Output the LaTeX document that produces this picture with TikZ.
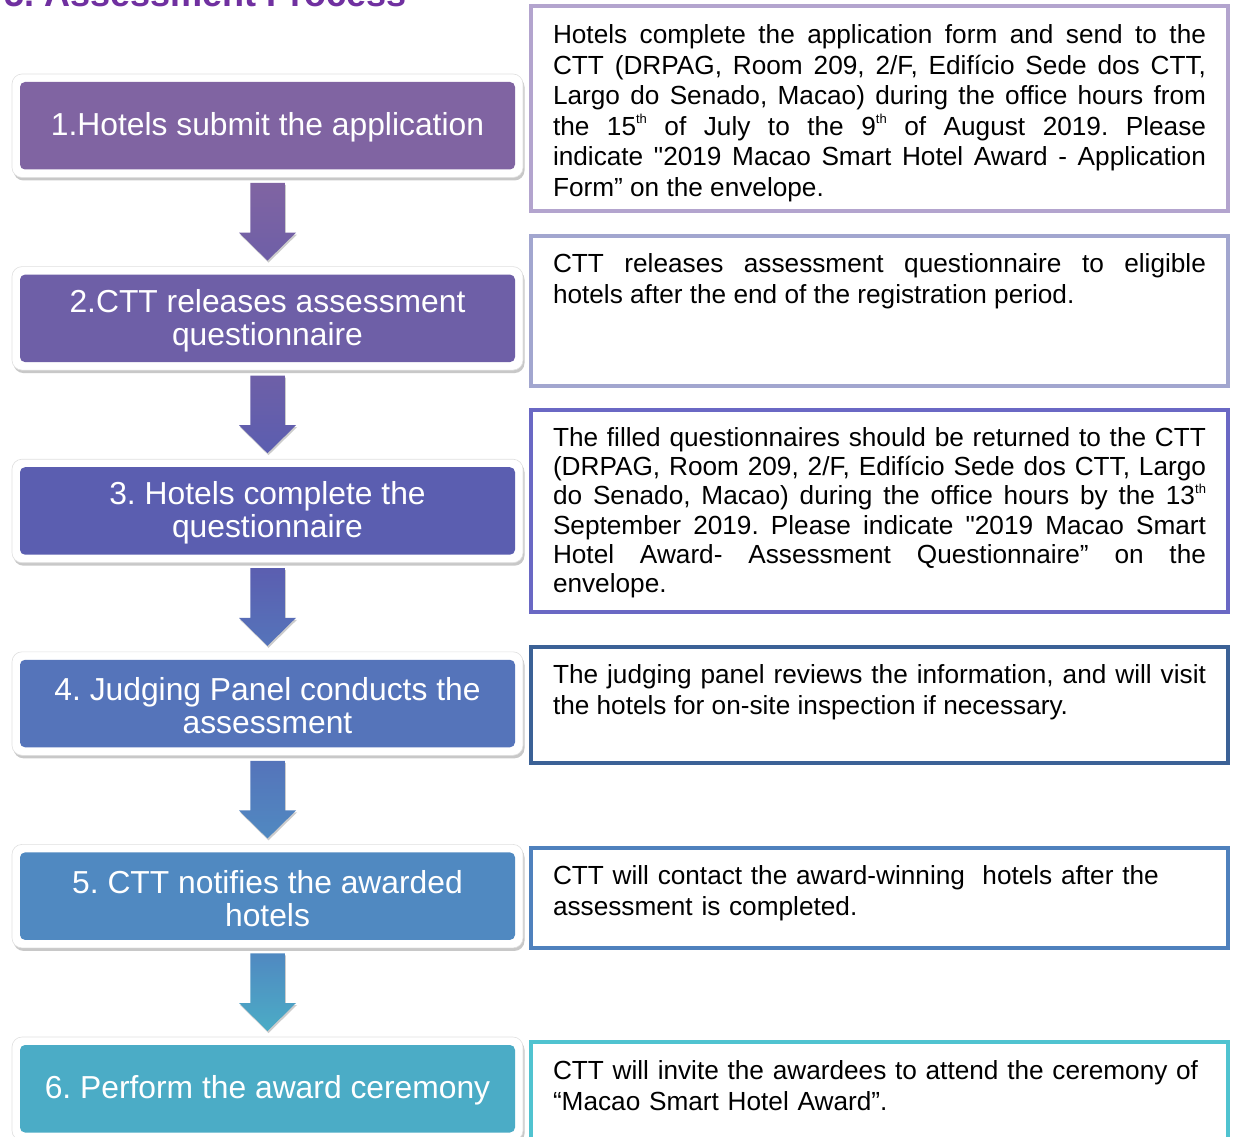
\documentclass[tikz,border=0pt]{standalone}
\usepackage{fontspec}
\setmainfont{Liberation Sans}[Ligatures=TeXOff]
\usetikzlibrary{shadows,calc}
\frenchspacing
\definecolor{titlec}{HTML}{7030A0}
\definecolor{c1}{HTML}{8064A2}
\definecolor{c2}{HTML}{6E5FA7}
\definecolor{c3}{HTML}{5B5EB0}
\definecolor{c4}{HTML}{5574BA}
\definecolor{c5}{HTML}{5089C1}
\definecolor{c6}{HTML}{4BACC6}
\definecolor{b1}{HTML}{B3A4CE}
\definecolor{b2}{HTML}{A2A6CF}
\definecolor{b3}{HTML}{6A68C4}
\definecolor{b4}{HTML}{3B6196}
\definecolor{b5}{HTML}{4F81BD}
\definecolor{b6}{HTML}{50C3D0}
\newcommand\sups[1]{\raisebox{11.5pt}{\fontsize{13}{13}\selectfont #1}}
\newcommand\flowarrow[4]{%
  \path[top color=#3, bottom color=#4, draw=none,
    drop shadow={shadow xshift=1pt, shadow yshift=-2pt, opacity=0.2, fill=black}]
    ($(#1.south)+(-17.25,5.5)$) -- ($(#1.south)+(17.25,5.5)$)
    -- ($(#2.north)+(17.25,-34)$) -- ($(#2.north)+(28.5,-34)$)
    -- ($(#2.north)+(0,-6)$) -- ($(#2.north)+(-28.5,-34)$)
    -- ($(#2.north)+(-17.25,-34)$) -- cycle;}
\tikzset{
  outerbox/.style={draw=black!12, line width=0.6pt, fill=white, rounded corners=10pt,
    minimum width=511pt, minimum height=103.5pt, inner sep=0pt, outer sep=0pt,
    drop shadow={shadow xshift=1.5pt, shadow yshift=-3pt, opacity=0.3, fill=black!70}},
  stepbox/.style={rounded corners=5pt, minimum width=495pt, minimum height=87.5pt,
    inner sep=0pt, outer sep=0pt},
  steptext/.style={text=white, align=center, inner sep=0pt,
    font=\fontsize{31.8}{33}\selectfont},
  infobox/.style={line width=4pt, minimum width=697pt, inner sep=0pt, outer sep=0pt, fill=white},
  infotext/.style={anchor=base west, text width=653pt, inner sep=0pt, outer sep=0pt}
}
\begin{document}
\begin{tikzpicture}[x=1pt,y=-1pt]
\useasboundingbox (0,0) rectangle (1235,1137);
\clip (0,0) rectangle (1235,1137);
\fill[white] (0,0) rectangle (1235,1137);
\node[anchor=base west, text=titlec, inner sep=0pt, font=\bfseries\fontsize{36}{36}\selectfont] (title) at (4,7) {5. Assessment Process};
% left step boxes
\foreach \i/\txt in {1/{1.Hotels submit the application},
  2/{2.CTT releases assessment\\questionnaire},
  3/{3. Hotels complete the\\questionnaire},
  4/{4. Judging Panel conducts the\\assessment},
  5/{5. CTT notifies the awarded\\hotels},
  6/{6. Perform the award ceremony}}{
  \pgfmathsetmacro\cy{82+192.6*(\i-1)+43.75}
  \node[outerbox] (o\i) at (267.5,\cy) {};
  \node[stepbox, fill=c\i] (s\i) at (267.5,\cy) {};
  \node[steptext] (l\i) at ($(s\i.center)+(0,2)$) {\txt};
}
\flowarrow{o1}{o2}{c1}{c2}
\flowarrow{o2}{o3}{c2}{c3}
\flowarrow{o3}{o4}{c3}{c4}
\flowarrow{o4}{o5}{c4}{c5}
\flowarrow{o5}{o6}{c5}{c6}
% right info boxes
\node[infobox, draw=b1, minimum height=205pt] (r1) at (879.5,108.5) {};
\node[infobox, draw=b2, minimum height=150pt] (r2) at (879.5,311) {};
\node[infobox, draw=b3, minimum height=202pt] (r3) at (879.5,511) {};
\node[infobox, draw=b4, minimum height=116pt] (r4) at (879.5,705) {};
\node[infobox, draw=b5, minimum height=100pt] (r5) at (879.5,898) {};
\node[infobox, draw=b6, minimum height=118pt] (r6) at (879.5,1101) {};
\node[infotext, align=justify, font=\fontsize{26.2}{30.6}\selectfont] (t1) at (553,43.5) {Hotels complete the application form and send to the\linebreak
CTT (DRPAG, Room 209, 2/F, Edifício Sede dos CTT,\linebreak
Largo do Senado, Macao) during the office hours from\linebreak
the 15\sups{th} of July to the 9\sups{th} of August 2019. Please\linebreak
indicate "2019 Macao Smart Hotel Award - Application\linebreak
Form” on the envelope.};
\node[infotext, align=justify, font=\fontsize{26.2}{31}\selectfont] (t2) at (553,272.5) {CTT releases assessment questionnaire to eligible\linebreak
hotels after the end of the registration period.};
\node[infotext, align=justify, font=\fontsize{26.2}{29.2}\selectfont] (t3) at (553,446.5) {The filled questionnaires should be returned to the CTT\linebreak
(DRPAG, Room 209, 2/F, Edifício Sede dos CTT, Largo\linebreak
do Senado, Macao) during the office hours by the 13\sups{th}\linebreak
September 2019. Please indicate "2019 Macao Smart\linebreak
Hotel Award- Assessment Questionnaire” on the\linebreak
envelope.};
\node[infotext, align=justify, font=\fontsize{26.2}{31}\selectfont] (t4) at (553,683.5) {The judging panel reviews the information, and will visit\linebreak
the hotels for on-site inspection if necessary.};
\node[infotext, align=left, font=\fontsize{26.2}{31}\selectfont] (t5) at (553,884.5) {CTT will contact the award-winning\ \ hotels after the\\
assessment is completed.};
\node[infotext, align=left, font=\fontsize{26.2}{31}\selectfont] (t6) at (553,1079.5) {CTT will invite the awardees to attend the ceremony of\\
“Macao Smart Hotel Award”.};
\end{tikzpicture}
\end{document}
